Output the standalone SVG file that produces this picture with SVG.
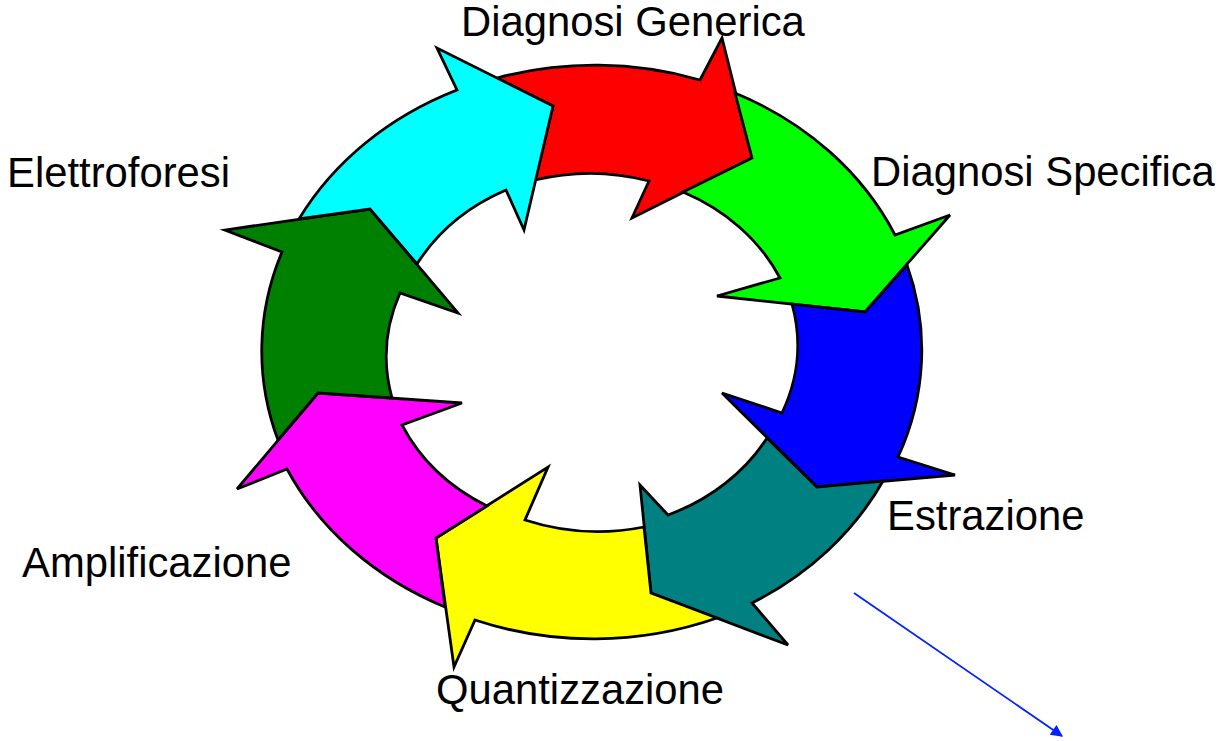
<svg xmlns="http://www.w3.org/2000/svg" width="1222" height="741" viewBox="0 0 1222 741">
  <style>
    .arrow { stroke: #000; stroke-width: 2.8; stroke-linejoin: miter; }
    .label { font-family: "Liberation Sans", Arial, sans-serif; font-size: 41.8px; fill: #000; }
    .conn { stroke: #0022ff; stroke-width: 1.8; fill: none; }
  </style>
  <defs>
    <marker id="ah" viewBox="0 0 10 10" refX="9" refY="5" markerWidth="15" markerHeight="12" markerUnits="userSpaceOnUse" orient="auto">
      <path d="M0,0 L10,5 L0,10 Z" fill="#0022ff"/>
    </marker>
  </defs>
  <rect width="1222" height="741" fill="#fff"/>

  <g id="diagnosi-generica">
    <path class="arrow" fill="#ff0000" d="M497,78 A332 288 0 0 1 700,80 L722,38 L752,158 L632,218 L649,181 A206 178 0 0 0 535,180 L553,106 Z"/>
    <text class="label" x="461" y="36">Diagnosi Generica</text>
  </g>
  <g id="diagnosi-specifica">
    <path class="arrow" fill="#00ff00" d="M735,93 A332 288 0 0 1 895,235 L950,215 L865,312 L717,296 L780,278 A206 178 0 0 0 683,192 L752,158 Z"/>
    <text class="label" x="871" y="186">Diagnosi Specifica</text>
  </g>
  <g id="estrazione">
    <path class="arrow" fill="#0000ff" d="M907,265 A332 288 0 0 1 898,457 L955,475 L817,487 L722,393 L782,413 A206 178 0 0 0 792,304 L865,312 Z"/>
    <text class="label" x="887" y="530">Estrazione</text>
  </g>
  <g id="teal-step">
    <path class="arrow" fill="#008080" d="M883,481 A332 288 0 0 1 752,603 L788,645 L651,593 L640,485 L668,515 A206 178 0 0 0 767,438 L817,487 Z"/>
  </g>
  <g id="quantizzazione">
    <path class="arrow" fill="#ffff00" d="M717,618 A332 288 0 0 1 475,620 L454,667 L436,538 L548,467 L525,520 A206 178 0 0 0 644,527 L651,593 Z"/>
    <text class="label" x="436" y="704">Quantizzazione</text>
  </g>
  <g id="amplificazione">
    <path class="arrow" fill="#ff00ff" d="M445,607 A332 288 0 0 1 287,469 L237,489 L318,393 L462,403 L402,425 A206 178 0 0 0 487,506 L436,538 Z"/>
    <text class="label" x="22" y="577">Amplificazione</text>
  </g>
  <g id="elettroforesi">
    <path class="arrow" fill="#008000" d="M278,440 A332 288 0 0 1 282,252 L225,230 L370,209 L458,313 L400,293 A206 178 0 0 0 392,398 L318,393 Z"/>
    <text class="label" x="7" y="187">Elettroforesi</text>
  </g>
  <g id="cyan-step">
    <path class="arrow" fill="#00ffff" d="M299,219 A332 288 0 0 1 457,90 L437,48 L553,106 L524,230 L506,190 A206 178 0 0 0 417,264 L370,209 Z"/>
  </g>

  <g id="connectors">
    <line class="conn" x1="854" y1="593" x2="1062" y2="736" marker-end="url(#ah)"/>
  </g>
</svg>
